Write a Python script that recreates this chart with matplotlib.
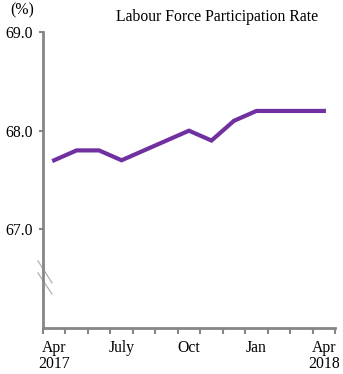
import numpy as np
import matplotlib.pyplot as plt

# monthly labour force participation rate, Apr 2017 - Apr 2018
months = ['Apr', 'May', 'Jun', 'Jul', 'Aug', 'Sep', 'Oct', 'Nov', 'Dec',
          'Jan', 'Feb', 'Mar', 'Apr']
rate = [67.7, 67.8, 67.8, 67.7, 67.8, 67.9, 68.0, 67.9, 68.1,
        68.2, 68.2, 68.2, 68.2]
label_pos = [0, 3, 6, 9, 12]
label_text = ['Apr\n2017', 'July', 'Oct', 'Jan', 'Apr\n2018']
y_ticks = [67.0, 68.0, 69.0]

plt.rcParams['font.family'] = ['Liberation Serif', 'DejaVu Serif']
plt.rcParams['font.size'] = 11.3

fig = plt.figure(figsize=(3.43, 3.74), dpi=100)
ax = fig.add_axes([0.125, 0.1230, 0.852, 0.7914])

x = np.arange(len(months))
ax.plot(x, rate, color='#7030A0', linewidth=3, solid_joinstyle='miter')

ax.set_xlim(-0.5, len(months) - 0.5)
ax.set_ylim(66.0, 69.0)

gray = '#868686'
for side in ['top', 'right']:
    ax.spines[side].set_visible(False)
for side in ['left', 'bottom']:
    ax.spines[side].set_color(gray)
    ax.spines[side].set_linewidth(2)

# boundary ticks without labels, labels at month centres
ax.set_xticks(np.arange(-0.5, len(months)))
ax.set_xticklabels([])
ax.tick_params(axis='x', which='major', length=4, width=1.5, color=gray)
ax.set_xticks(label_pos, minor=True)
ax.set_xticklabels(label_text, minor=True, linespacing=1.0)
ax.tick_params(axis='x', which='minor', length=0, pad=9)

ax.set_yticks(y_ticks)
ax.set_yticklabels(['%.1f' % v for v in y_ticks])
ax.tick_params(axis='y', length=3, width=1.5, color=gray, pad=4)

# axis break marks
for y0, y1 in [(0.227, 0.153), (0.186, 0.115)]:
    ax.plot([-0.017, 0.031], [y0, y1], color='#b0b0b0', linewidth=0.9,
            transform=ax.transAxes, clip_on=False)

fig.text(0.634, 0.955, 'Labour Force Participation Rate', ha='center', va='center')
fig.text(0.064, 0.973, '(%)', ha='center', va='center')

fig.savefig('out.png', dpi=100)
